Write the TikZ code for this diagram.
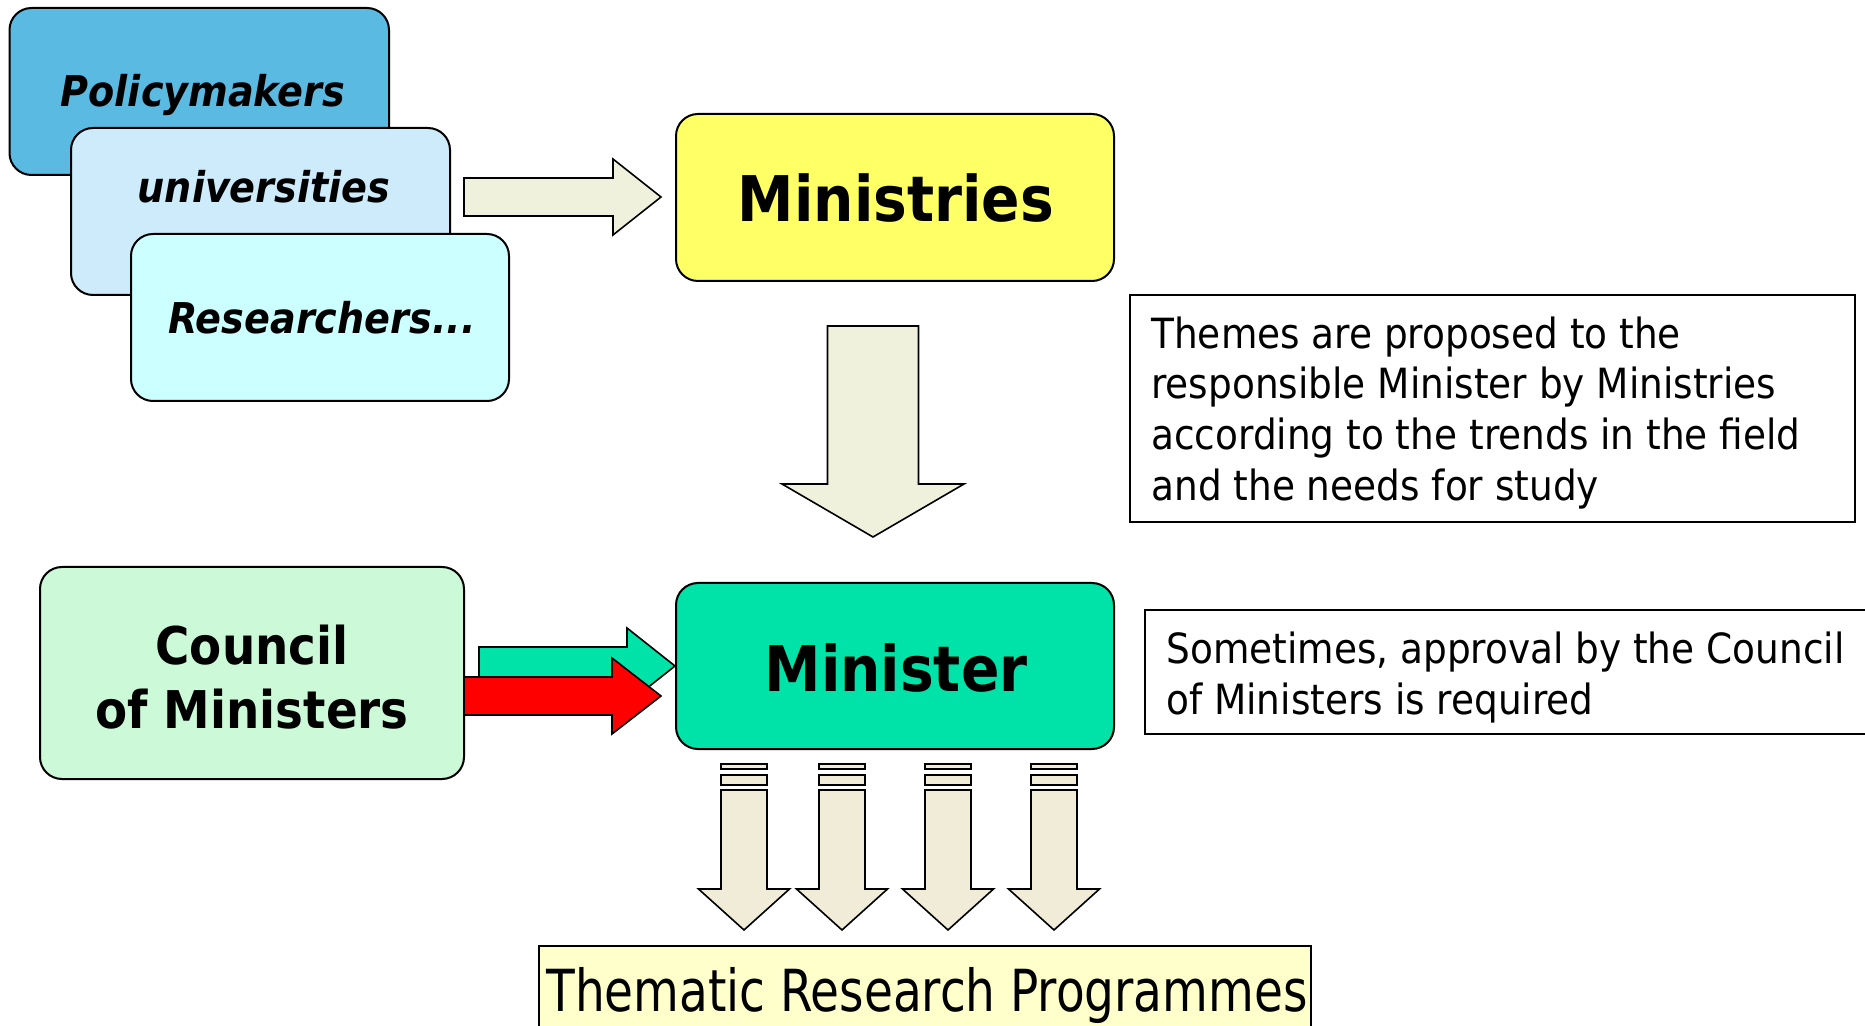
\documentclass[tikz,border=0pt]{standalone}
\usepackage{fontspec}
\setmainfont{DejaVuSansCondensed}[Extension=.ttf, BoldFont=*-Bold, ItalicFont=*-Oblique, BoldItalicFont=*-BoldOblique]
\newfontfamily\thmfont{DejaVuSansCondensed}[Extension=.ttf, FakeStretch=0.9]
\usetikzlibrary{fit}
\definecolor{cpol}{HTML}{5BBAE2}
\definecolor{cuni}{HTML}{CDEBFB}
\definecolor{cres}{HTML}{CCFFFF}
\definecolor{cmin}{HTML}{FFFF66}
\definecolor{ccou}{HTML}{CCF9D8}
\definecolor{cmst}{HTML}{00E3A8}
\definecolor{cbeige}{HTML}{F0F1DC}
\definecolor{csmall}{HTML}{F1ECD8}
\definecolor{cthem}{HTML}{FFFFCC}
\newcommand{\rarr}[7]{% fill, x0, xhead, xtip, yc, halfshaft, halfhead
  \filldraw[blk, fill=#1] (#2,#5-#6) -- (#3,#5-#6) -- (#3,#5-#7) -- (#4,#5) -- (#3,#5+#7) -- (#3,#5+#6) -- (#2,#5+#6) -- cycle;}
\newcommand{\darr}[7]{% fill, xc, y0, yhead, ytip, halfshaft, halfhead
  \filldraw[blk, fill=#1] (#2-#6,#3) -- (#2-#6,#4) -- (#2-#7,#4) -- (#2,#5) -- (#2+#7,#4) -- (#2+#6,#4) -- (#2+#6,#3) -- cycle;}
\newcommand{\stripedarr}[1]{%
  \filldraw[blk, fill=csmall] (#1-23,764) rectangle (#1+23,769);
  \filldraw[blk, fill=csmall] (#1-23,775) rectangle (#1+23,785);
  \darr{csmall}{#1}{790}{889}{930}{23}{45.5}}
\tikzset{
  rbox/.style={draw=black, line width=1pt, rounded corners=11pt, inner sep=0pt, outer sep=0pt},
  tbox/.style={draw=black, line width=0.8pt, inner sep=0pt, outer sep=0pt},
  blk/.style={draw=black, line width=0.8pt, line join=miter},
  lab/.style={inner sep=0pt, anchor=base},
  bi/.style={font=\fontsize{21.2}{26}\selectfont\bfseries\itshape},
  big/.style={font=\fontsize{31.5}{38}\selectfont\bfseries},
  note/.style={inner sep=0pt, anchor=north west, align=left, font=\fontsize{20.8}{25.3}\selectfont},
}
\begin{document}
\begin{tikzpicture}[x=0.5pt, y=-0.5pt]
\useasboundingbox (0,0) rectangle (1865,1026);
% top-left stack
\node[rbox, fill=cpol, fit={(9.5,8) (389,175)}] (pol) {};
\node[lab, bi] (polt) at (203,107) {Policymakers};
\node[rbox, fill=cuni, fit={(71,128) (450,295)}] (uni) {};
\node[lab, bi] (unit) at (264,203) {universities};
\node[rbox, fill=cres, fit={(131,234) (509,401)}] (res) {};
\node[lab, bi] (rest) at (322,334) {Researchers...};
% Ministries
\node[rbox, fill=cmin, fit={(676,114) (1114,281)}] (mins) {};
\node[lab, big] (minst) at (896,222) {Ministries};
\rarr{cbeige}{464}{613}{661}{197}{19}{38}
\darr{cbeige}{873}{326}{484}{537}{45.5}{91}
% Themes note
\node[tbox, fit={(1130,295) (1855,522)}] (themes) {};
\node[note] (themest) at (1151,298) {\rule{0pt}{25pt}Themes are proposed to the\\responsible Minister by Ministries\\according to the trends in the field\\and the needs for study};
% Council and Minister
\node[rbox, fill=ccou, fit={(40,567) (464,779)}] (cou) {};
\node[inner sep=0pt, anchor=north, align=center, font=\fontsize{26}{32}\selectfont\bfseries] (coun) at (252,614) {\rule{0pt}{25pt}Council\\of Ministers};
\node[rbox, fill=cmst, fit={(676,583) (1114,749)}] (mst) {};
\node[lab, big] (mstt) at (896,691) {Minister};
\rarr{cmst}{479}{627}{675}{666}{19}{38}
\rarr{red}{464}{612}{661}{696}{19}{38}
% Sometimes note
\node[tbox, fit={(1145,610) (1875,734)}] (some) {};
\node[note] (somet) at (1166,613) {\rule{0pt}{25pt}Sometimes, approval by the Council\\of Ministers is required};
% small arrows
\stripedarr{744}
\stripedarr{842}
\stripedarr{948}
\stripedarr{1054}
% Thematic
\node[tbox, fill=cthem, fit={(539,946) (1311,1040)}] (them) {};
\node[lab, font=\thmfont\fontsize{29}{34}\selectfont] (themt) at (927,1011) {Thematic Research Programmes};
\end{tikzpicture}
\end{document}
